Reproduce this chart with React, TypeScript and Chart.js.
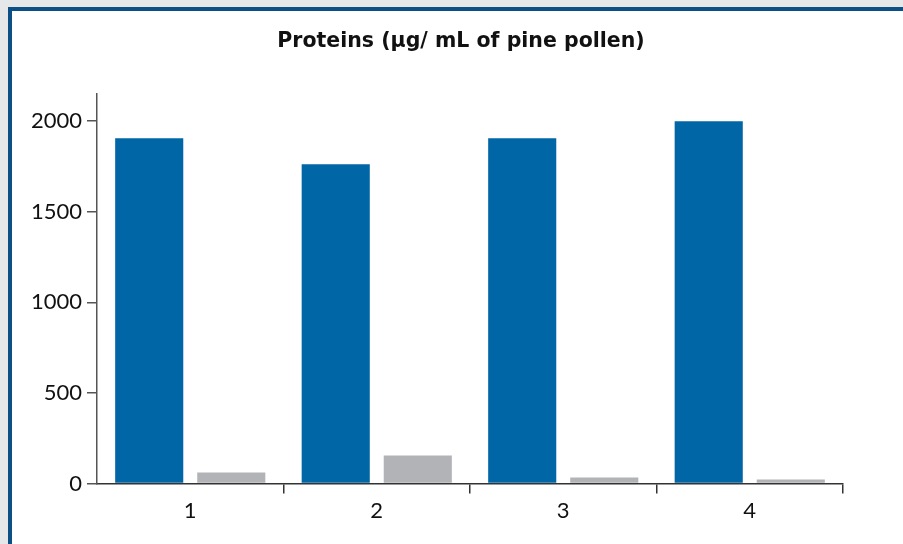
import React, { useEffect, useRef } from "react";
import { Chart, registerables } from "chart.js";

Chart.register(...registerables);

const categories = ["1", "2", "3", "4"];
const blueValues = [1906, 1762, 1906, 2000];
const greyValues = [61, 155, 33, 22];
const yTickValues = [0, 500, 1000, 1500, 2000];
const titleText = "Proteins (µg/ mL of pine pollen)";

const FONT = "Lato, 'Open Sans', sans-serif";
const TITLE_FONT = "'DejaVu Sans', sans-serif";

const titlePlugin = {
  id: "offsetTitle",
  afterDraw(chart: any) {
    const { ctx, chartArea } = chart;
    ctx.save();
    ctx.font = `bold 20.5px ${TITLE_FONT}`;
    ctx.fillStyle = "#111";
    ctx.textAlign = "center";
    ctx.textBaseline = "middle";
    const x = (chartArea.left + chartArea.right) / 2 - 9;
    ctx.fillText(titleText, x, 30);
    ctx.restore();
  },
};

export default function App() {
  const canvasRef = useRef<HTMLCanvasElement | null>(null);

  useEffect(() => {
    const canvas = canvasRef.current;
    if (!canvas) return;
    const chart = new Chart(canvas, {
      type: "bar",
      data: {
        labels: categories,
        datasets: [
          {
            label: "A",
            data: blueValues,
            backgroundColor: "#0066a6",
            categoryPercentage: 0.88,
            barPercentage: 0.83,
          },
          {
            label: "B",
            data: greyValues,
            backgroundColor: "#b1b3b6",
            categoryPercentage: 0.88,
            barPercentage: 0.83,
          },
        ],
      },
      plugins: [titlePlugin],
      options: {
        responsive: false,
        animation: false,
        devicePixelRatio: 1,
        layout: { padding: { left: 0, right: 60, top: 82, bottom: 16 } },
        plugins: {
          legend: { display: false },
          tooltip: { enabled: false },
          title: { display: false },
        },
        scales: {
          x: {
            border: { display: true, color: "#333", width: 1.5 },
            grid: {
              offset: true,
              drawOnChartArea: false,
              drawTicks: true,
              tickLength: 10,
              lineWidth: 1.5,
              color: (ctx: any) => (ctx.index === 0 ? "rgba(0,0,0,0)" : "#333"),
            },
            ticks: {
              color: "#111",
              padding: 4,
              font: { family: FONT, size: 22 },
            },
          },
          y: {
            min: 0,
            max: 2150,
            border: { display: true, color: "#555", width: 1.5 },
            grid: {
              drawOnChartArea: false,
              drawTicks: true,
              tickLength: 10,
              lineWidth: 1.5,
              color: "#555",
            },
            afterBuildTicks: (scale: any) => {
              scale.ticks = yTickValues.map((v) => ({ value: v }));
            },
            afterFit: (scale: any) => {
              scale.width = 85;
            },
            ticks: {
              color: "#111",
              padding: 5,
              font: { family: FONT, size: 22 },
              callback: (v: any) => String(v),
            },
          },
        },
      },
    });
    return () => chart.destroy();
  }, []);

  return (
    <div
      style={{
        position: "fixed",
        left: 0,
        top: 0,
        width: 903,
        height: 544,
        background: "#e6e7e8",
        overflow: "hidden",
      }}
    >
      <div
        style={{
          position: "absolute",
          left: 8,
          top: 7,
          width: 960,
          height: 600,
          background: "#ffffff",
          borderTop: "4px solid #0b4f85",
          borderLeft: "4px solid #0b4f85",
        }}
      />
      <canvas
        ref={canvasRef}
        width={891}
        height={532}
        style={{ position: "absolute", left: 12, top: 12, width: 891, height: 532 }}
      />
    </div>
  );
}
